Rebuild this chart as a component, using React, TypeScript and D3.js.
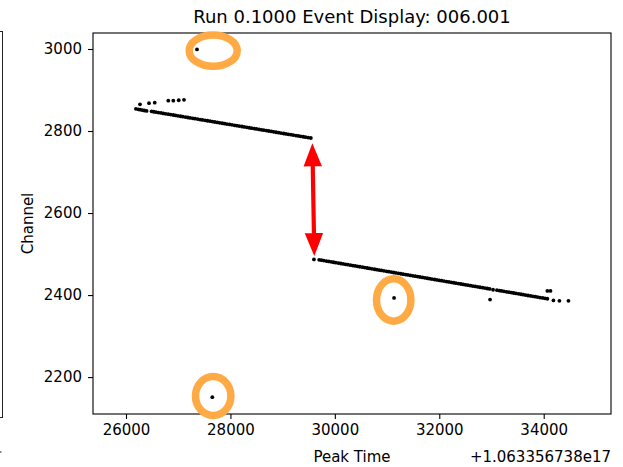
import React, { useEffect, useRef } from "react"
import * as d3 from "d3"

// main track, upstream of the break: [peak time offset, channel]
const trackA: [number, number][] = [
  [26190, 2854], [26235, 2853], [26270, 2852], [26310, 2851], [26350, 2850], [26395, 2849],
  [26490, 2848], [26530, 2847], [26575, 2846], [26620, 2845], [26670, 2844], [26715, 2843],
  [26760, 2842], [26810, 2841], [26855, 2840], [26905, 2839], [26950, 2838], [26995, 2837],
  [27045, 2836], [27090, 2835], [27140, 2834], [27185, 2833], [27230, 2832], [27280, 2831],
  [27325, 2830], [27375, 2829], [27420, 2828], [27465, 2827], [27515, 2826], [27560, 2825],
  [27610, 2824], [27655, 2823], [27700, 2822], [27750, 2821], [27795, 2820], [27845, 2819],
  [27890, 2818], [27935, 2817], [27985, 2816], [28030, 2815], [28080, 2814], [28125, 2813],
  [28170, 2812], [28220, 2811], [28265, 2810], [28315, 2809], [28360, 2808], [28405, 2807],
  [28455, 2806], [28500, 2805], [28550, 2804], [28595, 2803], [28640, 2802], [28690, 2801],
  [28735, 2800], [28785, 2799], [28830, 2798], [28875, 2797], [28925, 2796], [28970, 2795],
  [29020, 2794], [29065, 2793], [29110, 2792], [29160, 2791], [29205, 2790], [29255, 2789],
  [29300, 2788], [29345, 2787], [29395, 2786], [29440, 2785], [29490, 2784], [29540, 2783],
]

// short row of hits above the start of the track
const trackAUpper: [number, number][] = [
  [26268, 2865], [26441, 2868], [26550, 2869], [26810, 2874], [26906, 2874], [27010, 2875], [27111, 2876],
]

// main track, downstream of the break
const trackB: [number, number][] = [
  [29600, 2487], [29700, 2486], [29745, 2485], [29790, 2484], [29840, 2483], [29885, 2482],
  [29930, 2481], [29975, 2480], [30020, 2479], [30070, 2478], [30115, 2477], [30160, 2476],
  [30205, 2475], [30250, 2474], [30300, 2473], [30345, 2472], [30390, 2471], [30435, 2470],
  [30480, 2469], [30530, 2468], [30575, 2467], [30620, 2466], [30665, 2465], [30710, 2464],
  [30760, 2463], [30805, 2462], [30850, 2461], [30895, 2460], [30940, 2459], [30990, 2458],
  [31035, 2457], [31080, 2456], [31125, 2455], [31170, 2454], [31220, 2453], [31265, 2452],
  [31310, 2451], [31355, 2450], [31400, 2449], [31450, 2448], [31495, 2447], [31540, 2446],
  [31585, 2445], [31630, 2444], [31680, 2443], [31725, 2442], [31770, 2441], [31815, 2440],
  [31860, 2439], [31910, 2438], [31955, 2437], [32000, 2436], [32045, 2435], [32090, 2434],
  [32140, 2433], [32185, 2432], [32230, 2431], [32275, 2430], [32320, 2429], [32370, 2428],
  [32415, 2427], [32460, 2426], [32505, 2425], [32550, 2424], [32600, 2423], [32645, 2422],
  [32690, 2421], [32735, 2420], [32780, 2419], [32830, 2418], [32875, 2417], [32920, 2416],
  [32965, 2415], [33030, 2413], [33105, 2412], [33150, 2411], [33195, 2410], [33240, 2409],
  [33290, 2408], [33335, 2407], [33380, 2406], [33425, 2405], [33470, 2404], [33520, 2403],
  [33565, 2402], [33610, 2401], [33655, 2400], [33700, 2399], [33750, 2398], [33795, 2397],
  [33840, 2396], [33885, 2395], [33930, 2394], [33980, 2393], [34025, 2392], [34070, 2391],
]

// isolated hits near the end of the track and the circled outliers
const strayHits: [number, number][] = [
  [32973, 2389], [34070, 2410], [34130, 2410], [34186, 2387], [34301, 2386], [34474, 2386],
]
const outliers: [number, number][] = [
  [27360, 2999], [31134, 2393], [27653, 2151],
]

// orange circles: centre in data units
const circleCentres: [number, number][] = [
  [27670, 2996], [31127, 2388], [27670, 2154],
]
const circleRadii: [number, number][] = [[24, 15.7], [17.2, 21.2], [17.7, 19.5]]

// red double arrow across the break
const arrowEnds: [number, number][] = [[29569, 2770], [29607, 2495]]

const xTicks = [26000, 28000, 30000, 32000, 34000]
const yTicks = [2200, 2400, 2600, 2800, 3000]
const xDomain = [25368, 35289]
const yDomain = [2110, 3039]

const title = "Run 0.1000 Event Display: 006.001"
const xLabel = "Peak Time"
const yLabel = "Channel"
const offsetText = "+1.063356738e17"

const W = 623
const H = 467
const FONT = "DejaVu Sans"

export default function App() {
  const ref = useRef<SVGSVGElement>(null)

  useEffect(() => {
    const svg = d3.select(ref.current)
    svg.selectAll("*").remove()

    const m = { left: 93, right: 611, top: 33, bottom: 414 }
    const x = d3.scaleLinear().domain(xDomain).range([m.left, m.right])
    const y = d3.scaleLinear().domain(yDomain).range([m.bottom, m.top])

    // edge of the neighbouring panel, cut off at the left
    svg.append("rect")
      .attr("x", -10).attr("y", 31.5).attr("width", 12.5).attr("height", 386)
      .attr("fill", "none").attr("stroke", "#222").attr("stroke-width", 1)
    svg.append("rect")
      .attr("x", 0).attr("y", 451).attr("width", 1.5).attr("height", 2)
      .attr("fill", "#888")

    // title
    svg.append("text")
      .attr("x", (m.left + m.right) / 2).attr("y", 22.5)
      .attr("text-anchor", "middle").attr("font-family", FONT).attr("font-size", 18)
      .text(title)

    // axes
    const xAxis = svg.append("g").attr("transform", `translate(0,${m.bottom})`)
      .call(d3.axisBottom(x).tickValues(xTicks).tickSize(5).tickPadding(5).tickFormat(d3.format("d")))
    const yAxis = svg.append("g").attr("transform", `translate(${m.left},0)`)
      .call(d3.axisLeft(y).tickValues(yTicks).tickSize(5).tickPadding(6).tickFormat(d3.format("d")))
    for (const g of [xAxis, yAxis]) {
      g.select(".domain").remove()
      g.selectAll("line").attr("stroke", "#000").attr("stroke-width", 1.1)
      g.selectAll("text").attr("font-family", FONT).attr("font-size", 15).attr("fill", "#000")
    }

    // frame
    svg.append("rect")
      .attr("x", m.left).attr("y", m.top)
      .attr("width", m.right - m.left).attr("height", m.bottom - m.top)
      .attr("fill", "none").attr("stroke", "#000").attr("stroke-width", 1.1)

    // axis labels + offset
    svg.append("text")
      .attr("x", (m.left + m.right) / 2).attr("y", 462)
      .attr("text-anchor", "middle").attr("font-family", FONT).attr("font-size", 15)
      .text(xLabel)
    svg.append("text")
      .attr("x", m.right).attr("y", 462)
      .attr("text-anchor", "end").attr("font-family", FONT).attr("font-size", 15)
      .text(offsetText)
    svg.append("text")
      .attr("transform", `translate(33,${(m.top + m.bottom) / 2}) rotate(-90)`)
      .attr("text-anchor", "middle").attr("font-family", FONT).attr("font-size", 15)
      .text(yLabel)

    // hits
    const all = [...trackA, ...trackAUpper, ...trackB, ...strayHits, ...outliers]
    svg.append("g")
      .selectAll("circle")
      .data(all)
      .join("circle")
      .attr("cx", d => x(d[0]))
      .attr("cy", d => y(d[1]))
      .attr("r", 1.9)
      .attr("fill", "#000")

    // orange rings
    svg.append("g")
      .selectAll("ellipse")
      .data(circleCentres)
      .join("ellipse")
      .attr("cx", d => x(d[0]))
      .attr("cy", d => y(d[1]))
      .attr("rx", (d, i) => circleRadii[i][0])
      .attr("ry", (d, i) => circleRadii[i][1])
      .attr("fill", "none")
      .attr("stroke", "#ffaa44")
      .attr("stroke-width", 7.5)

    // double arrow
    const [a, b] = arrowEnds.map(d => [x(d[0]), y(d[1])])
    const dx = b[0] - a[0], dy = b[1] - a[1]
    const len = Math.hypot(dx, dy)
    const ux = dx / len, uy = dy / len
    const px = -uy, py = ux
    const headL = 23, headW = 9.2, shaftW = 2.1
    const pt = (t: number, s: number) => [a[0] + ux * t + px * s, a[1] + uy * t + py * s]
    const poly = [
      pt(0, 0), pt(headL, headW), pt(headL, shaftW), pt(len - headL, shaftW),
      pt(len - headL, headW), pt(len, 0), pt(len - headL, -headW), pt(len - headL, -shaftW),
      pt(headL, -shaftW), pt(headL, -headW),
    ]
    svg.append("path")
      .attr("d", d3.line()(poly as [number, number][]) + "Z")
      .attr("fill", "#ff0000")
  }, [])

  return (
    <svg
      ref={ref}
      width={W}
      height={H}
      style={{ position: "absolute", left: 0, top: 0, background: "#fff" }}
    />
  )
}
